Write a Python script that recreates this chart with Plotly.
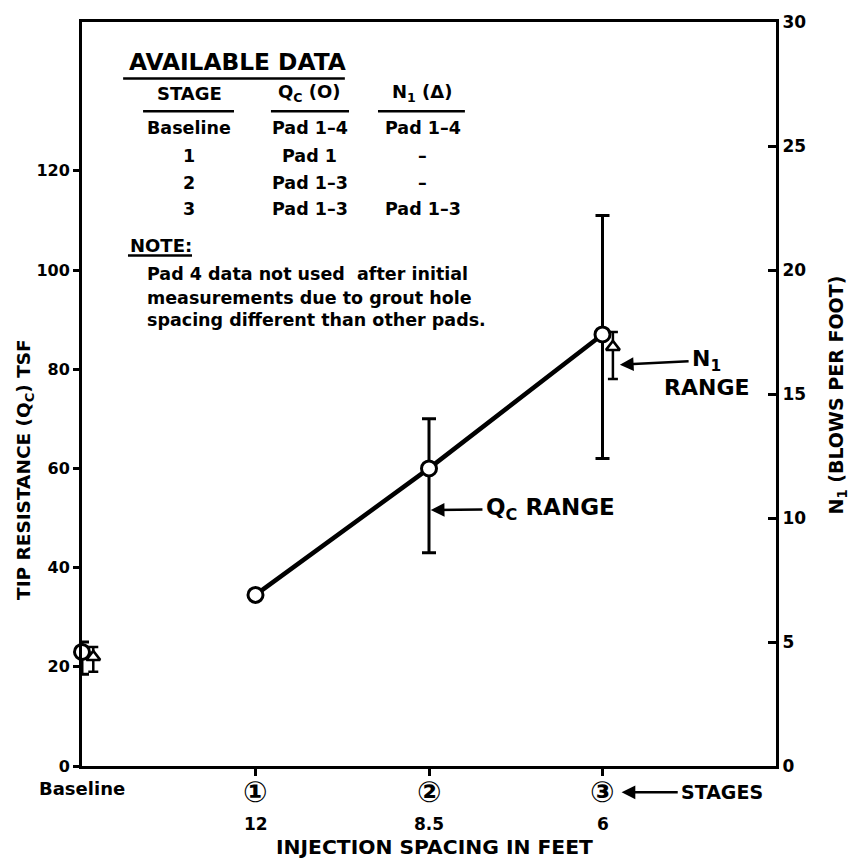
import plotly.graph_objects as go

# Stage positions along the x axis and their labels
stage_pos = [0, 1, 2, 3]
stage_marks = ["Baseline", "①", "②", "③"]
spacing_ft = ["", "12", "8.5", "6"]

# Cone tip resistance Qc (TSF): mean and range per stage
qc_mid = [23, 34.5, 60, 87]
qc_low = [18.5, None, 43, 62]
qc_high = [25, None, 70, 111]

# SPT N1 (blows per foot): mean and range (baseline and stage 3 only)
n1_pos = [0.065, 3.06]
n1_mid = [4.4, 16.9]
n1_low = [3.8, 15.6]
n1_high = [4.8, 17.5]

# Left / right axis tick values
qc_ticks = [0, 20, 40, 60, 80, 100, 120]
n1_ticks = [0, 5, 10, 15, 20, 25, 30]
QC_MAX = 150
N1_MAX = 30

FONT = "DejaVu Sans"
INK = "black"


def spread(mid, lo, hi):
    plus = [None if h is None else h - m for m, h in zip(mid, hi)]
    minus = [None if l is None else m - l for m, l in zip(mid, lo)]
    return plus, minus


qc_plus, qc_minus = spread(qc_mid, qc_low, qc_high)
n1_plus, n1_minus = spread(n1_mid, n1_low, n1_high)

fig = go.Figure()

# Trend line through the grouted stages
fig.add_trace(go.Scatter(
    x=stage_pos[1:], y=qc_mid[1:], mode="lines",
    line=dict(color=INK, width=4.5), hoverinfo="skip", showlegend=False,
))

# Qc means (open circles) with range bars
fig.add_trace(go.Scatter(
    x=stage_pos, y=qc_mid, mode="markers",
    marker=dict(symbol="circle", size=15, color="white",
                line=dict(color=INK, width=3)),
    error_y=dict(type="data", symmetric=False, array=qc_plus,
                 arrayminus=qc_minus, color=INK, thickness=3, width=7),
    cliponaxis=False, showlegend=False,
))

# N1 means (triangles) with range bars on the right axis
fig.add_trace(go.Scatter(
    x=n1_pos, y=n1_mid, mode="markers", yaxis="y2",
    marker=dict(symbol="triangle-up", size=12, color="white",
                line=dict(color=INK, width=2.5)),
    error_y=dict(type="data", symmetric=False, array=n1_plus,
                 arrayminus=n1_minus, color=INK, thickness=2.5, width=5),
    cliponaxis=False, showlegend=False,
))

annotations = []
shapes = []


def label(text, x, y, size, xanchor="center", xref="x", yref="y", angle=0):
    annotations.append(dict(
        text=text, x=x, y=y, xref=xref, yref=yref, showarrow=False,
        xanchor=xanchor, yanchor="middle", textangle=angle,
        font=dict(family=FONT, size=size, color=INK, weight="bold"),
    ))


def callout(text, size, text_x, text_y, head_x, head_y, yref="y"):
    # text centred at (text_x, text_y) with an arrow running to (head_x, head_y)
    annotations.append(dict(
        text=text, x=head_x, y=head_y, ax=text_x, ay=text_y,
        xref="x", yref=yref, axref="x", ayref=yref, showarrow=True,
        arrowhead=2, arrowsize=1.1, arrowwidth=2.5, arrowcolor=INK,
        standoff=0, borderpad=3,
        font=dict(family=FONT, size=size, color=INK, weight="bold"),
    ))


def below(v):
    # position below the frame, given in Qc units, as a fraction of the y domain
    return v / QC_MAX


def underline(x0, x1, y):
    shapes.append(dict(type="line", xref="x", yref="y", x0=x0, x1=x1,
                       y0=y, y1=y, line=dict(color=INK, width=2.5)))


# Available-data table
label("AVAILABLE DATA", 0.26, 142.0, 23.3, xanchor="left")
underline(0.237, 1.515, 138.6)

col_x = [0.617, 1.314, 1.965]
headers = ["STAGE", "Q<sub>C</sub> (O)", "N<sub>1</sub> (Δ)"]
for cx, h in zip(col_x, headers):
    label(h, cx, 135.6, 18)
underline(0.352, 0.876, 132.0)
underline(1.089, 1.539, 132.0)
underline(1.706, 2.207, 132.0)

table_rows = [
    ["Baseline", "Pad 1–4", "Pad 1–4"],
    ["1", "Pad 1", "–"],
    ["2", "Pad 1–3", "–"],
    ["3", "Pad 1–3", "Pad 1–3"],
]
row_y = [128.6, 123.0, 117.6, 112.4]
for ry, row in zip(row_y, table_rows):
    for cx, cell in zip(col_x, row):
        label(cell, cx, ry, 17.5)

label("NOTE:", 0.265, 105.0, 18, xanchor="left")
underline(0.265, 0.634, 102.9)
note_lines = [
    "Pad 4 data not used  after initial",
    "measurements due to grout hole",
    "spacing different than other pads.",
]
for ny, line in zip([99.2, 94.4, 89.9], note_lines):
    label(line, 0.363, ny, 17.5, xanchor="left")

# Range call-outs
callout("Q<sub>C</sub> RANGE", 23, 2.70, 51.9, 2.01, 51.6)
callout("N<sub>1</sub>", 22, 3.60, 81.8, 3.10, 80.9)
label("RANGE", 3.60, 76.3, 22)

# Stage markers, spacing values and x-axis title below the frame
DOM = "y domain"
for sx, mark, sp in zip(stage_pos, stage_marks, spacing_ft):
    if mark == "Baseline":
        label(mark, sx, below(-4.6), 18, yref=DOM)
    else:
        label(mark, sx, below(-5.3), 29, yref=DOM)
    if sp:
        label(sp, sx, below(-11.6), 17, yref=DOM)
callout("STAGES", 19, 3.69, below(-5.3), 3.11, below(-5.3), yref=DOM)
label("INJECTION SPACING IN FEET", 2.03, below(-16.4), 20.3, yref=DOM)

# Axis titles
label("TIP RESISTANCE (Q<sub>C</sub>) TSF", -0.082, 0.398, 18.5,
      xref="paper", yref="paper", angle=-90)
label("N<sub>1</sub> (BLOWS PER FOOT)", 1.089, 0.499, 19,
      xref="paper", yref="paper", angle=-90)

axis_common = dict(showgrid=False, zeroline=False, showline=True,
                   linecolor=INK, linewidth=3, tickcolor=INK, tickwidth=2.5)

fig.update_layout(
    width=856, height=864,
    margin=dict(l=82, r=80, t=14, b=98),
    paper_bgcolor="white", plot_bgcolor="white",
    font=dict(family=FONT, color=INK, size=15, weight="bold"),
    xaxis=dict(range=[0, 4], tickvals=stage_pos[1:], ticks="outside",
               ticklen=7, showticklabels=False, mirror=True, **axis_common),
    yaxis=dict(range=[0, QC_MAX], tickvals=qc_ticks, ticks="outside",
               ticklen=6, mirror=True,
               tickfont=dict(family=FONT, size=16, color=INK, weight="bold"),
               **axis_common),
    yaxis2=dict(range=[0, N1_MAX], tickvals=n1_ticks, overlaying="y",
                side="right", ticks="inside", ticklen=8,
                tickfont=dict(family=FONT, size=17, color=INK, weight="bold"),
                **axis_common),
    annotations=annotations,
    shapes=shapes,
    showlegend=False,
)

fig.write_html("out.html")
